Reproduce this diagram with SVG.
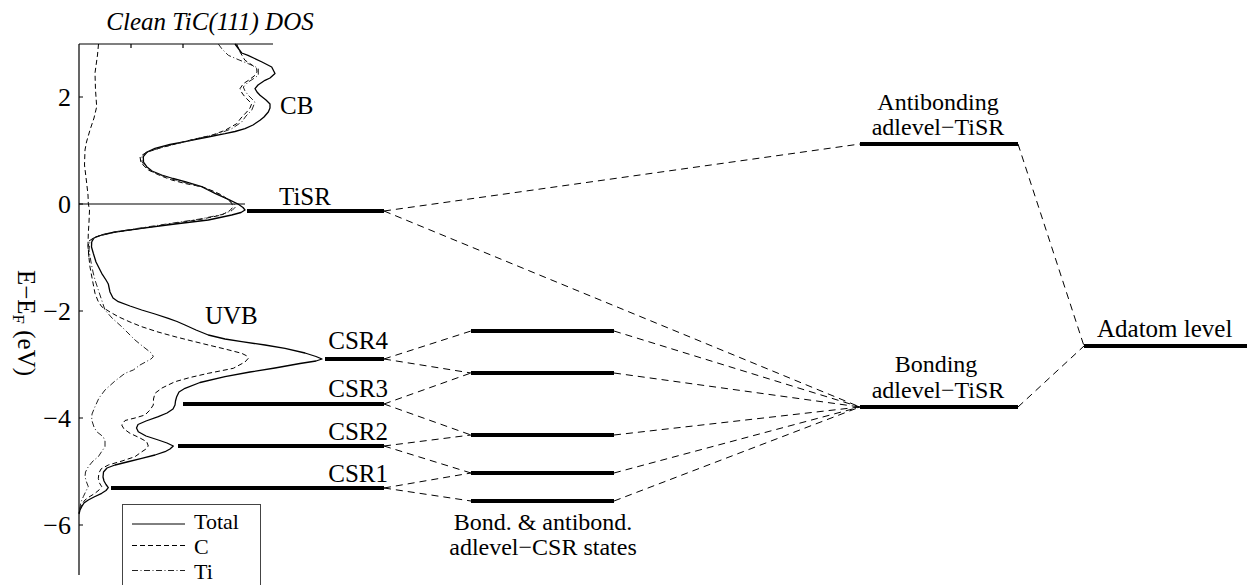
<svg xmlns="http://www.w3.org/2000/svg" width="1247" height="585" viewBox="0 0 1247 585" font-family="'Liberation Serif', 'Times New Roman', serif">
  <style>
    text { font-family: "Liberation Serif", "Times New Roman", serif; font-size: 25px; fill: #000; }
    .tick { font-size: 26px; text-anchor: end; }
    .mid { text-anchor: middle; }
    .small { font-size: 24px; }
    .leg { font-size: 22px; }
    .axis { stroke: #000; stroke-width: 1.2; fill: none; }
    .level { stroke: #000; stroke-width: 4; }
    .link { stroke: #000; stroke-width: 1; stroke-dasharray: 7 5; fill: none; }
    .tot { stroke: #000; stroke-width: 1.3; fill: none; stroke-linejoin: round; }
    .c { stroke: #000; stroke-width: 1; stroke-dasharray: 5 3; fill: none; }
    .ti { stroke: #222; stroke-width: 1; stroke-dasharray: 6 2.5 1 2.5; fill: none; }
  </style>

  <rect width="1247" height="585" fill="#fff"/>

  <!-- DOS panel: axes, ticks and Fermi line -->
  <g id="dos-axes">
    <text x="210" y="30" class="mid" font-style="italic">Clean TiC(111) DOS</text>
    <path class="axis" d="M79,44 V575 M79,44 H273 M131,44 v4 M183,44 v4 M79,97 h4 M79,204 h4 M79,311 h4 M79,418 h4 M79,525 h4"/>
    <path class="axis" d="M79,204 H245" stroke-width="1"/>
    <text class="tick" x="71" y="106">2</text>
    <text class="tick" x="71" y="213">0</text>
    <text class="tick" x="71" y="320">−2</text>
    <text class="tick" x="71" y="427">−4</text>
    <text class="tick" x="71" y="534">−6</text>
    <text transform="translate(18,323) rotate(90)" class="mid">E−E<tspan font-size="17" dy="5">F</tspan><tspan dy="-5"> (eV)</tspan></text>
  </g>

  <!-- DOS curves -->
  <g id="dos-curves">
    <path class="tot" d="M235,44 L241.7,53 L248,55.3 L262,62 L271.7,67 L275,73.5 L270,78 L265,80.3 L258,85 L255,88.7 L257,92 L260,95.3 L266,100 L270,104 L270,108 L268.3,112 L264,117 L260,120.3 L253,125 L245,128.7 L235,131.5 L225,133.7 L208,137 L195,139.5 L185,141.7 L170,144.5 L155,148.3 L147,152 L143.3,156.7 L143.5,162 L146.7,166.7 L152,171 L161.7,175 L173,178.5 L185,181.7 L201.7,186.7 L215,193.3 L228.3,199.3 L238,204 L243,207.5 L245,210 L241,212.5 L231.7,215 L208.3,220 L175,224 L141.7,228.3 L115,232 L101.7,235 L94,238 L91.7,242 L91.5,247 L93.3,253.3 L96,262 L101.7,273.3 L106,280 L108.3,284 L110,292 L113,298 L118.3,301.7 L130,306 L141.7,310 L155,314 L168.3,318.3 L177,321.5 L185,325 L196,330 L208.3,335 L225,339 L241.7,341.7 L265,345 L285,348.3 L305,353 L316,356.5 L322,359 L316,361 L300,363.5 L275,368 L250,372 L225,376.7 L200,382.5 L185,388.3 L179,392 L176.7,396.7 L175.5,401 L175,405 L173,409 L167,413 L158.3,416.7 L146,421 L138,424.5 L136.5,428 L138.3,431.7 L146,436 L158.3,440 L167,443 L173.3,446 L170,449 L165,451.7 L155,455 L141.7,458.3 L127,462 L115,465 L107,468 L103.5,472 L103,477 L104,481 L106,484.5 L108.3,487.7 L106,490.5 L101.7,493.3 L94,497 L88.3,500 L84,503 L81.7,506.7 L80,510 L79,514"/>
    <path class="c" d="M98.5,44 L97.5,55 L95,73 L95.5,90 L96.7,106.7 L94,118 L90,130 L86.5,142 L85,150 L84.5,165 L86.7,183.3 L88,195 L88.3,203.3 L89.5,210 L89,222 L88.3,233.3 L88,245 L89,258 L90,267 L93,283 L95,293.3 L98,301 L101.7,306.7 L110,312 L118.3,316.7 L130,322 L141.7,326.7 L158,332 L175,336.7 L192,341 L208.3,345 L225,349 L241.7,353.3 L247,356 L248.3,358.3 L245,362 L233.3,368.3 L220,371 L208.3,373.3 L190,377.5 L175,381.7 L162,388 L155,393.3 L153.5,399 L153.3,405 L150,410 L145,415 L135,418 L125,420.5 L121.7,425 L124,429 L130,433.3 L140,438 L146.7,441.7 L148.3,446 L146,449 L140,453 L135,456.7 L122,461 L108.3,465 L101,469 L99,473 L98.3,478.3 L99.5,483 L101.7,486.7 L99,490 L95,493.3 L89,497 L85,500 L82,504 L80,508 L79,513"/>
    <path class="c" d="M236.7,44 L240,52 L245,60.3 L252,65 L256.7,68.7 L257,72 L255,75.3 L249,80 L243.3,83.7 L240,88.7 L242,93 L245,97 L249,101 L251.7,103.7 L250,108 L246.7,112 L241,118 L236.7,123.7 L230,127.5 L225,130.3 L211.7,135.3 L195,139 L185,141.5 L160,148 L146,152.5 L140,156.7 L141,163 L148.3,170 L160,175.5 L171.7,180 L185,183.5 L201.7,186.7 L213,191 L221.7,195 L228,199.5 L231.7,203.3 L233,207 L230,210.5 L221.7,215 L200,219.5 L170,224 L140,228.5 L110,233 L95,237 L89,241 L88,247 L89,258"/>
    <path class="ti" d="M218.3,44 L222,49 L228.3,55.3 L238,59.5 L248.3,63.7 L255,66.5 L258.3,68.7 L258.3,75.3 L253,79 L248.3,82 L243.3,87 L245,91 L248.3,95.3 L255,102 L251.7,110.3 L246,116 L241.7,122 L231.7,128.7 L218.3,133.7 L200,138 L185,141.8 L165,146.5 L150,151 L142,155.5 L142,162 L147,168 L155,173 L171.7,179 L185,182.5 L201.7,187 L218,194 L228,199.5 L234,204 L235.5,207 L232,210.5 L222,214.5 L200,219 L170,223.5 L140,228 L112,232.5 L96,236.5 L90,241 L89,250 L91,262 L93,272 L95,280 L99,292 L105,310 L112,318 L121.7,326.7 L128,333 L135,340 L143,346.5 L151.7,353.3 L153.3,356.7 L151,359 L148.3,360.5 L140,365 L133.3,370 L125,373.3 L115,381 L105,390 L99,398 L95,406.7 L92,414 L91.7,420 L94,427 L96.7,431.7 L101,435 L103.3,437 L105,441 L105,446.7 L102,451 L98.3,456.7 L93,461 L88.3,466.7 L85.5,472 L85,476.7 L86.5,482 L88.3,486.7 L86,491 L83.3,496.7 L81,502 L80,506.7 L79,512"/>
    <text x="280" y="114">CB</text>
    <text x="205" y="324">UVB</text>
  </g>

  <!-- legend -->
  <g id="legend">
    <rect x="122.5" y="504.5" width="138" height="100" fill="#fff" stroke="#444" stroke-width="1"/>
    <line x1="132" y1="524" x2="185" y2="524" stroke="#000" stroke-width="1"/>
    <line x1="132" y1="545.5" x2="185" y2="545.5" class="c"/>
    <line x1="132" y1="570.5" x2="185" y2="570.5" class="ti"/>
    <text x="194" y="529" class="leg">Total</text>
    <text x="194" y="554" class="leg">C</text>
    <text x="194" y="578.5" class="leg">Ti</text>
  </g>

  <!-- connectors between levels -->
  <g id="connectors">
    <path class="link" d="M384,211 L860,144"/>
    <path class="link" d="M384,211 L860,407"/>
    <path class="link" d="M384,359 L471,331 M384,359 L471,373"/>
    <path class="link" d="M384,404 L471,373 M384,404 L471,435"/>
    <path class="link" d="M384,446 L471,435 M384,446 L471,473"/>
    <path class="link" d="M384,488 L471,473 M384,488 L471,501"/>
    <path class="link" d="M614,331 L860,407 M614,373 L860,407 M614,435 L860,407 M614,473 L860,407 M614,501 L860,407"/>
    <path class="link" d="M1018,144 L1084,346 M1018,407 L1084,346"/>
  </g>

  <!-- surface levels -->
  <g id="tisr"><line class="level" x1="247" y1="211" x2="384" y2="211"/><text x="279" y="205">TiSR</text></g>
  <g id="csr4"><line class="level" x1="325" y1="359" x2="384" y2="359"/><text x="388" y="349" text-anchor="end">CSR4</text></g>
  <g id="csr3"><line class="level" x1="183" y1="404" x2="384" y2="404"/><text x="388" y="397" text-anchor="end">CSR3</text></g>
  <g id="csr2"><line class="level" x1="178" y1="446" x2="384" y2="446"/><text x="388" y="440" text-anchor="end">CSR2</text></g>
  <g id="csr1"><line class="level" x1="111" y1="488" x2="384" y2="488"/><text x="388" y="482" text-anchor="end">CSR1</text></g>

  <!-- adlevel-CSR states -->
  <g id="adlevel-csr">
    <line class="level" x1="471" y1="331" x2="614" y2="331"/>
    <line class="level" x1="471" y1="373" x2="614" y2="373"/>
    <line class="level" x1="471" y1="435" x2="614" y2="435"/>
    <line class="level" x1="471" y1="473" x2="614" y2="473"/>
    <line class="level" x1="471" y1="501" x2="614" y2="501"/>
    <text x="543" y="530" class="mid small">Bond. &amp; antibond.</text>
    <text x="543" y="555" class="mid small">adlevel−CSR states</text>
  </g>

  <!-- adlevel-TiSR states -->
  <g id="antibonding">
    <line class="level" x1="860" y1="144" x2="1018" y2="144"/>
    <text x="938" y="110" class="mid small">Antibonding</text>
    <text x="938" y="135" class="mid small">adlevel−TiSR</text>
  </g>
  <g id="bonding">
    <line class="level" x1="860" y1="407" x2="1018" y2="407"/>
    <text x="936" y="372" class="mid small">Bonding</text>
    <text x="938" y="398" class="mid small">adlevel−TiSR</text>
  </g>

  <!-- adatom -->
  <g id="adatom">
    <line class="level" x1="1084" y1="346" x2="1247" y2="346"/>
    <text x="1097" y="337">Adatom level</text>
  </g>
</svg>
